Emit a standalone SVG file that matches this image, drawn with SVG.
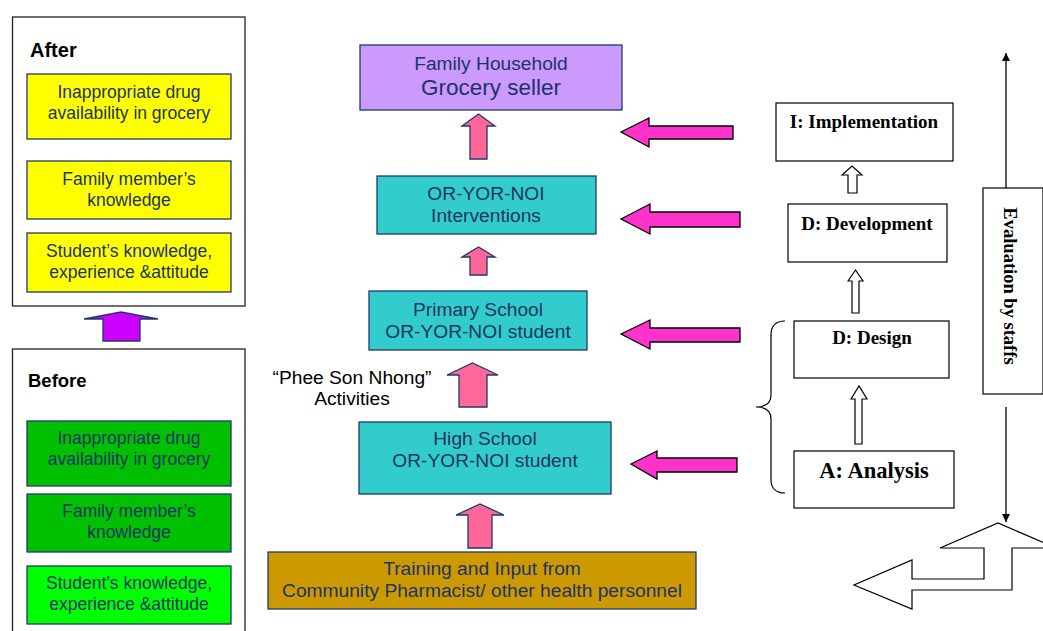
<svg xmlns="http://www.w3.org/2000/svg" width="1043" height="631" viewBox="0 0 1043 631">
<defs>
<style>
.panel{fill:#fff;stroke:#222;stroke-width:1.3}
.box{stroke:#1f3a68;stroke-width:1.3}
.t{font-family:"Liberation Sans",Arial,sans-serif;font-size:17.5px;fill:#1c3466;text-anchor:middle}
.tm{font-family:"Liberation Sans",Arial,sans-serif;font-size:19.2px;fill:#1c3466;text-anchor:middle}
.hd{font-family:"Liberation Sans",Arial,sans-serif;font-weight:bold;fill:#000}
.tr{font-family:"Liberation Serif","Times New Roman",serif;font-weight:bold;font-size:19px;fill:#000;text-anchor:middle}
.wbox{fill:#fff;stroke:#000;stroke-width:1.2}
.pink{fill:#FF6699;stroke:#1f3a68;stroke-width:1.3}
.mag{fill:#FF33CC;stroke:#000;stroke-width:1.3}
.white{fill:#fff;stroke:#000;stroke-width:1.2}
</style>
<marker id="ah" viewBox="0 0 10 10" refX="10" refY="5" markerWidth="8" markerHeight="8" markerUnits="userSpaceOnUse" orient="auto">
<path d="M0,0 L10,5 L0,10 z" fill="#000"/>
</marker>
</defs>
<rect width="1043" height="631" fill="#fff"/>

<g id="after-panel">
<rect class="panel" x="12.5" y="17" width="232.5" height="289"/>
<text class="hd" x="30" y="57" style="font-size:20px">After</text>
</g>
<g id="after-drug">
<rect class="box" x="27" y="74" width="204" height="65" fill="#FFFF00"/>
<text class="t" x="129" y="98">Inappropriate drug</text>
<text class="t" x="129" y="119">availability in grocery</text>
</g>
<g id="after-family">
<rect class="box" x="27" y="161" width="204" height="58" fill="#FFFF00"/>
<text class="t" x="129" y="185">Family member’s</text>
<text class="t" x="129" y="206">knowledge</text>
</g>
<g id="after-student">
<rect class="box" x="27" y="233" width="204" height="59" fill="#FFFF00"/>
<text class="t" x="129" y="257">Student’s knowledge,</text>
<text class="t" x="129" y="278">experience &amp;attitude</text>
</g>

<g id="before-panel">
<rect class="panel" x="12.5" y="349" width="232.5" height="300"/>
<text class="hd" x="28" y="387" style="font-size:18.5px">Before</text>
</g>
<g id="before-drug">
<rect class="box" x="27" y="421" width="204" height="65" fill="#00C000"/>
<text class="t" x="129" y="444">Inappropriate drug</text>
<text class="t" x="129" y="465">availability in grocery</text>
</g>
<g id="before-family">
<rect class="box" x="27" y="494" width="204" height="58" fill="#00C000"/>
<text class="t" x="129" y="517">Family member’s</text>
<text class="t" x="129" y="538">knowledge</text>
</g>
<g id="before-student">
<rect class="box" x="27" y="566" width="204" height="58" fill="#00FF00"/>
<text class="t" x="129" y="589">Student’s knowledge,</text>
<text class="t" x="129" y="610">experience &amp;attitude</text>
</g>

<g id="family-household">
<rect class="box" x="360" y="45" width="262" height="65" fill="#CC99FF"/>
<text class="tm" x="491" y="70">Family Household</text>
<text class="tm" x="491" y="95" style="font-size:22.5px">Grocery seller</text>
</g>
<g id="interventions">
<rect class="box" x="377" y="176" width="219" height="58" fill="#33CCCC"/>
<text class="tm" x="486" y="200">OR-YOR-NOI</text>
<text class="tm" x="486" y="222">Interventions</text>
</g>
<g id="primary">
<rect class="box" x="369" y="291" width="218" height="59" fill="#33CCCC"/>
<text class="tm" x="478" y="316">Primary School</text>
<text class="tm" x="478" y="338">OR-YOR-NOI student</text>
</g>
<g id="phee-label">
<text class="tm" x="352" y="384" style="fill:#000">“Phee Son Nhong”</text>
<text class="tm" x="352" y="405" style="fill:#000">Activities</text>
</g>
<g id="high">
<rect class="box" x="359" y="422" width="252" height="72" fill="#33CCCC"/>
<text class="tm" x="485" y="445">High School</text>
<text class="tm" x="485" y="467">OR-YOR-NOI student</text>
</g>
<g id="training">
<rect class="box" x="268" y="552" width="428" height="57" fill="#CC9900"/>
<text class="tm" x="482" y="575">Training and Input from</text>
<text class="tm" x="482" y="597">Community Pharmacist/ other health personnel</text>
</g>

<g id="implementation">
<rect class="wbox" x="776" y="103" width="177" height="58"/>
<text class="tr" x="864" y="128">I: Implementation</text>
</g>
<g id="development">
<rect class="wbox" x="788" y="204" width="159" height="58"/>
<text class="tr" x="867" y="230">D: Development</text>
</g>
<g id="design">
<rect class="wbox" x="794" y="321" width="155" height="57"/>
<text class="tr" x="872" y="344">D: Design</text>
</g>
<g id="analysis">
<rect class="wbox" x="794" y="451" width="160" height="57"/>
<text class="tr" x="874" y="478" style="font-size:22.5px">A: Analysis</text>
</g>
<g id="evaluation">
<rect class="wbox" x="983" y="188" width="60" height="206"/>
<text class="tr" transform="translate(1004,286) rotate(90)" x="0" y="0" style="font-size:18.5px">Evaluation by staffs</text>
</g>

<g id="connectors">
<polygon class="mag" points="84,319 121,312 158,319 140,319 140,341 103,341 103,319" style="fill:#CC00FF;stroke:#1f3a68"/>
<polygon class="pink" points="462,126 478.5,114 495,126 487,126 487,159 470,159 470,126"/>
<polygon class="pink" points="462,257 478.5,247 495,257 487,257 487,275 470,275 470,257"/>
<polygon class="pink" points="447,375 472.5,363 498,375 487,375 487,407 459,407 459,375"/>
<polygon class="pink" points="456,515 480,504 504,515 492,515 492,548 468,548 468,515"/>
<polygon class="mag" points="621,132 649,118 649,126 733,126 733,139 649,139 649,147"/>
<polygon class="mag" points="621,219 650,204 650,212 740,212 740,227 650,227 650,234"/>
<polygon class="mag" points="621,334 650,320 650,328 740,328 740,342 650,342 650,349"/>
<polygon class="mag" points="631,464 657,451 657,458 737,458 737,472 657,472 657,479"/>
<polygon class="white" points="842,175 852,166 862,175 857,175 857,193 848,193 848,175"/>
<polygon class="white" points="848,281 855.5,270 863,281 859,281 859,313 852,313 852,281"/>
<polygon class="white" points="851,399 859,386 867,399 862,399 862,444 855,444 855,399"/>
<path d="M785,321 C776,321 771,326 771,335 L771,395 C771,403 766,407 756,407 C766,407 771,411 771,419 L771,480 C771,488 776,493 785,493" fill="none" stroke="#000" stroke-width="1.2"/>
<line x1="1006" y1="188" x2="1006" y2="53" stroke="#000" stroke-width="1.3" marker-end="url(#ah)"/>
<line x1="1006" y1="407" x2="1006" y2="522" stroke="#000" stroke-width="1.3" marker-end="url(#ah)"/>
<polygon class="white" points="940,548 998,523 1056,548 1012,548 1012,590 912,590 912,609 854,585 912,560 912,579 984,579 984,548"/>
</g>
</svg>
